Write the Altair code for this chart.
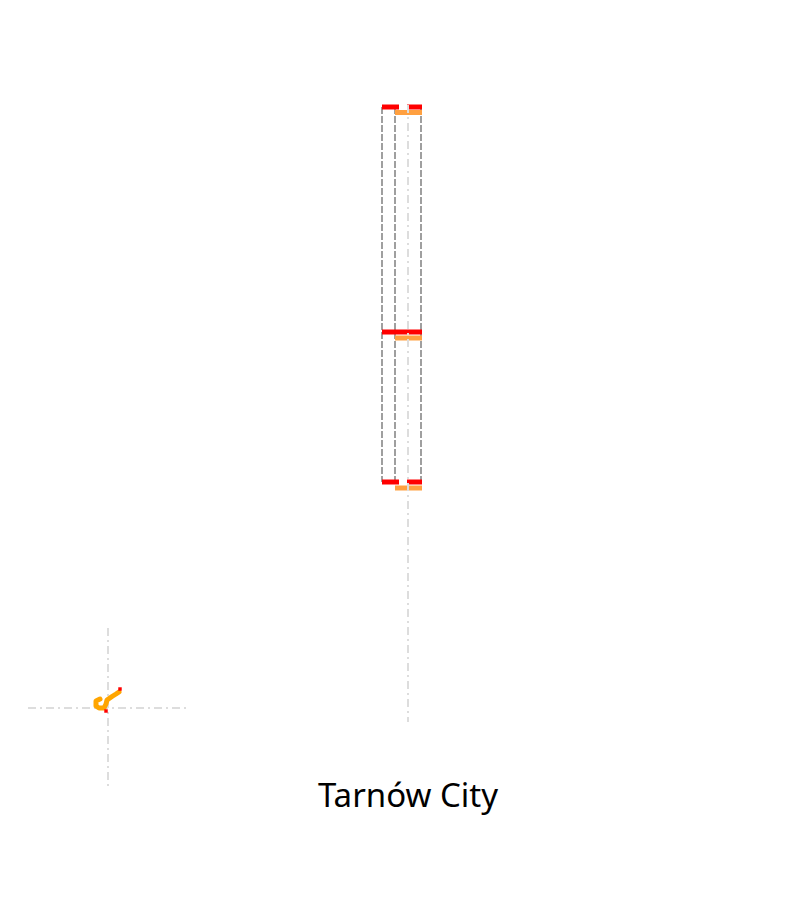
import altair as alt
import pandas as pd

# ---- data (abstract units) ----
red_levels = [100, 55, 25]
orange_levels = [98.9, 53.8, 23.8]
# red horizontal segments: (level, x start, x end)
red_x0 = [38.2, 40.7, 38.2, 38.2, 40.7]
red_x1 = [39.9, 42.2, 42.2, 39.9, 42.2]
red_y = [100, 100, 55, 25, 25]
orange_x0 = 39.5
orange_x1 = 42.2
box_edges = [38.2, 39.5, 42.1]
box_top = 100
box_bottom = 25
center_x = 40.8
center_top = 100.4
center_bottom = -23.0

# small inset trace
trace_x = [10.0, 9.6, 9.6, 9.9, 10.4, 10.6, 10.7, 11.2, 11.6, 11.9]
trace_y = [-18.4, -18.8, -19.8, -20.2, -20.2, -19.4, -18.6, -17.9, -17.4, -17.0]
dot_x = [12.0, 10.6]
dot_y = [-16.4, -20.8]
cross_x = 10.8
cross_y = -20.2
cross_x_span = [2.8, 18.8]
cross_y_span = [-4.2, -36.2]

title_text = "Tarnów City"
title_x = 40.8
title_y = -40.0

XS = alt.Scale(domain=[0, 80])
YS = alt.Scale(domain=[-58.6, 121.4])

def X(f):
    return alt.X(f, type="quantitative", scale=XS, axis=None)

def Y(f):
    return alt.Y(f, type="quantitative", scale=YS, axis=None)

red_df = pd.DataFrame({"x": red_x0, "x2": red_x1, "y": red_y})
orange_df = pd.DataFrame({"x": [orange_x0] * 3, "x2": [orange_x1] * 3, "y": orange_levels})
edge_df = pd.DataFrame({"x": box_edges, "y": [box_top] * 3, "y2": [box_bottom] * 3})
center_df = pd.DataFrame({"x": [center_x], "y": [center_top], "y2": [center_bottom]})
trace_df = pd.DataFrame({"x": trace_x, "y": trace_y, "o": list(range(len(trace_x)))})
dot_df = pd.DataFrame({"x": dot_x, "y": dot_y})
crossv_df = pd.DataFrame({"x": [cross_x], "y": [cross_y_span[0]], "y2": [cross_y_span[1]]})
crossh_df = pd.DataFrame({"x": [cross_x_span[0]], "x2": [cross_x_span[1]], "y": [cross_y]})
title_df = pd.DataFrame({"x": [title_x], "y": [title_y], "t": [title_text]})

edges = alt.Chart(edge_df).mark_rule(color="#808080", strokeWidth=1.5, strokeDash=[7, 2]).encode(
    x=X("x"), y=Y("y"), y2="y2")
red = alt.Chart(red_df).mark_rule(color="#FF0000", strokeWidth=5).encode(
    x=X("x"), x2="x2", y=Y("y"))
orange = alt.Chart(orange_df).mark_rule(color="#FFA040", strokeWidth=5).encode(
    x=X("x"), x2="x2", y=Y("y"))
center = alt.Chart(center_df).mark_rule(color="#dddddd", strokeWidth=2, strokeDash=[8, 4, 2, 4]).encode(
    x=X("x"), y=Y("y"), y2="y2")
crossv = alt.Chart(crossv_df).mark_rule(color="#dddddd", strokeWidth=2, strokeDash=[8, 4, 2, 4]).encode(
    x=X("x"), y=Y("y"), y2="y2")
crossh = alt.Chart(crossh_df).mark_rule(color="#dddddd", strokeWidth=2, strokeDash=[8, 4, 2, 4]).encode(
    x=X("x"), x2="x2", y=Y("y"))
trace = alt.Chart(trace_df).mark_line(color="#FFA500", strokeWidth=5, strokeJoin="round",
                                      strokeCap="round").encode(
    x=X("x"), y=Y("y"), order="o:Q")
dots = alt.Chart(dot_df).mark_square(color="#FF0000", size=12, opacity=1).encode(
    x=X("x"), y=Y("y"))
title = alt.Chart(title_df).mark_text(font="Noto Sans", fontSize=33, color="#000000",
                                       align="center", baseline="alphabetic").encode(
    x=X("x"), y=Y("y"), text="t:N")

chart = alt.layer(edges, red, orange, center, crossv, crossh, trace, dots, title).properties(
    width=800, height=900, padding=0, autosize="none"
).configure_view(stroke=None)

chart.save("out.html", embed_options={"renderer": "svg", "actions": False})
